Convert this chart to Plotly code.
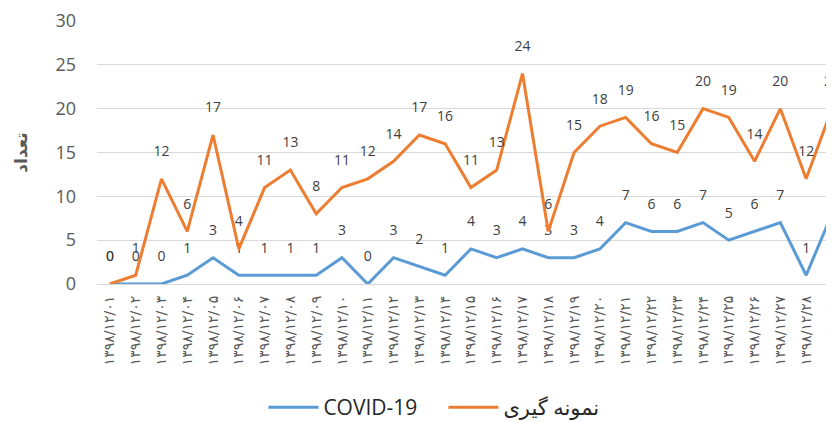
import plotly.graph_objects as go

dates = ["۱۳۹۸/۱۲/۰۱", "۱۳۹۸/۱۲/۰۲", "۱۳۹۸/۱۲/۰۳", "۱۳۹۸/۱۲/۰۴", "۱۳۹۸/۱۲/۰۵",
         "۱۳۹۸/۱۲/۰۶", "۱۳۹۸/۱۲/۰۷", "۱۳۹۸/۱۲/۰۸", "۱۳۹۸/۱۲/۰۹", "۱۳۹۸/۱۲/۱۰",
         "۱۳۹۸/۱۲/۱۱", "۱۳۹۸/۱۲/۱۲", "۱۳۹۸/۱۲/۱۳", "۱۳۹۸/۱۲/۱۴", "۱۳۹۸/۱۲/۱۵",
         "۱۳۹۸/۱۲/۱۶", "۱۳۹۸/۱۲/۱۷", "۱۳۹۸/۱۲/۱۸", "۱۳۹۸/۱۲/۱۹", "۱۳۹۸/۱۲/۲۰",
         "۱۳۹۸/۱۲/۲۱", "۱۳۹۸/۱۲/۲۲", "۱۳۹۸/۱۲/۲۳", "۱۳۹۸/۱۲/۲۴", "۱۳۹۸/۱۲/۲۵",
         "۱۳۹۸/۱۲/۲۶", "۱۳۹۸/۱۲/۲۷", "۱۳۹۸/۱۲/۲۸", "۱۳۹۸/۱۲/۲۹"]

covid = [0, 0, 0, 1, 3, 1, 1, 1, 1, 3, 0, 3, 2, 1, 4, 3, 4, 3, 3, 4, 7, 6, 6, 7, 5, 6, 7, 1, 8]
sampling = [0, 1, 12, 6, 17, 4, 11, 13, 8, 11, 12, 14, 17, 16, 11, 13, 24, 6, 15, 18,
            19, 16, 15, 20, 19, 14, 20, 12, 20]

y_ticks = [0, 5, 10, 15, 20, 25, 30]

label_font = dict(family="Open Sans, DejaVu Sans, sans-serif", size=14, color="#404040")
invisible_marker = dict(size=29, color="rgba(0,0,0,0)", line=dict(width=0))

fig = go.Figure()
fig.add_trace(go.Scatter(
    x=dates, y=covid, name="COVID-19", mode="lines+markers+text",
    line=dict(color="#5B9BD5", width=3),
    marker=invisible_marker,
    text=[str(v) for v in covid], textposition="top center",
    textfont=label_font, cliponaxis=False,
))
fig.add_trace(go.Scatter(
    x=dates, y=sampling, name="نمونه گیری", mode="lines+markers+text",
    line=dict(color="#ED7D31", width=3),
    marker=invisible_marker,
    text=[str(v) for v in sampling], textposition="top center",
    textfont=label_font, cliponaxis=False,
))

fig.update_layout(
    width=826, height=414,
    margin=dict(l=89, r=0, t=13, b=138, autoexpand=False),
    paper_bgcolor="white", plot_bgcolor="white",
    showlegend=True,
    legend=dict(orientation="h", x=0.47, xanchor="center", y=-0.47, yanchor="middle",
                font=dict(family="Open Sans, DejaVu Sans, sans-serif", size=21, color="#262626"),
                itemwidth=50, tracegroupgap=0, entrywidth=115, entrywidthmode="pixels"),
    xaxis=dict(
        type="category", range=[-0.5, 28.08], automargin=False,
        tickangle=-90, showgrid=False, showline=False, zeroline=False,
        tickfont=dict(family="DejaVu Sans, sans-serif", size=14, color="#595959"),
        ticks="", ticklabelstandoff=8,
    ),
    yaxis=dict(
        range=[0, 30], tickvals=y_ticks, ticktext=[str(v) for v in y_ticks],
        automargin=False,
        showgrid=True, gridcolor="#D9D9D9", gridwidth=1,
        zeroline=True, zerolinecolor="#D9D9D9", zerolinewidth=1,
        showline=False, ticks="", ticklabelstandoff=20,
        tickfont=dict(family="Open Sans, DejaVu Sans, sans-serif", size=18, color="#595959"),
        title=dict(text="<b>تعداد</b>", standoff=23,
                   font=dict(family="DejaVu Sans, sans-serif", size=17, color="#595959")),
    ),
)

fig.write_html("out.html")
